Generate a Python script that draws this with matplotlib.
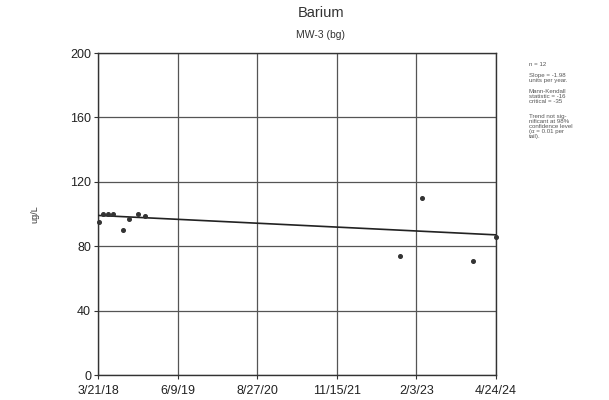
import datetime as dt
import numpy as np
import matplotlib
matplotlib.use("Agg")
import matplotlib.pyplot as plt
import matplotlib.dates as mdates

plt.rcParams["font.family"] = ["Liberation Sans", "DejaVu Sans"]

# Sampling dates and barium concentrations (ug/L)
sample_dates = [
    "2018-03-28", "2018-04-18", "2018-05-16", "2018-06-15",
    "2018-08-08", "2018-09-10", "2018-11-01", "2018-12-09",
    "2022-11-06", "2023-03-07", "2023-12-15", "2024-04-24",
]
barium = [95, 100, 100, 100, 90, 97, 100, 99, 74, 110, 71, 86]

# Axis ticks
x_tick_dates = ["2018-03-21", "2019-06-09", "2020-08-27",
                "2021-11-15", "2023-02-03", "2024-04-24"]
x_tick_labels = ["3/21/18", "6/9/19", "8/27/20", "11/15/21", "2/3/23", "4/24/24"]
y_ticks = [0, 40, 80, 120, 160, 200]

# Trend statistics
n_samples = 12
sen_slope = -1.98          # units per year
mk_statistic = -16
mk_critical = -35

dates = [dt.datetime.fromisoformat(d) for d in sample_dates]
xt = [dt.datetime.fromisoformat(d) for d in x_tick_dates]
xnum = mdates.date2num(dates)
years = (xnum - mdates.date2num(xt[0])) / 365.25
intercept = np.median(np.array(barium) - sen_slope * years)

fig = plt.figure(figsize=(6.09, 4.0), dpi=100)
ax = fig.add_axes([0.161, 0.0625, 0.6534, 0.805])

ax.set_xlim(mdates.date2num(xt[0]), mdates.date2num(xt[-1]))
ax.set_ylim(0, 200)
ax.set_xticks(mdates.date2num(xt))
ax.set_xticklabels(x_tick_labels, fontsize=9, color="#222222")
ax.set_yticks(y_ticks)
ax.set_yticklabels([str(v) for v in y_ticks], fontsize=9, color="#222222")
ax.tick_params(axis="both", length=3, width=0.8, color="#333333", pad=2)
ax.tick_params(axis="x", pad=4)
ax.grid(True, color="#555555", linewidth=0.9)
for s in ax.spines.values():
    s.set_color("#333333")
    s.set_linewidth(1.0)

# Trend line across the full date range
xl = np.array(ax.get_xlim())
yl = intercept + sen_slope * (xl - xl[0]) / 365.25
ax.plot(xl, yl, color="#222222", linewidth=1.2, zorder=3)

ax.plot(dates, barium, linestyle="none", marker="o", markersize=2.6,
        color="#333333", zorder=4, clip_on=False)

ax.set_ylabel("ug/L", fontsize=6.5, color="#333333", labelpad=22)

fig.text(0.527, 0.967, "Barium", ha="center", va="center", fontsize=10.5, color="#333333")
fig.text(0.527, 0.912, "MW-3 (bg)", ha="center", va="center", fontsize=7.5, color="#333333")

info_kw = dict(fontsize=4.4, color="#555555", ha="left", va="top", linespacing=1.05)
x0 = 0.868
fig.text(x0, 0.845, f"n = {n_samples}", **info_kw)
fig.text(x0, 0.818, f"Slope = {sen_slope:.2f}\nunits per year.", **info_kw)
fig.text(x0, 0.778, f"Mann-Kendall\nstatistic = {mk_statistic}\ncritical = {mk_critical}", **info_kw)
fig.text(x0, 0.716, "Trend not sig-\nnificant at 98%\nconfidence level\n(\u03b1 = 0.01 per\ntail).", **info_kw)

fig.savefig("out.png", dpi=100, facecolor="white")
